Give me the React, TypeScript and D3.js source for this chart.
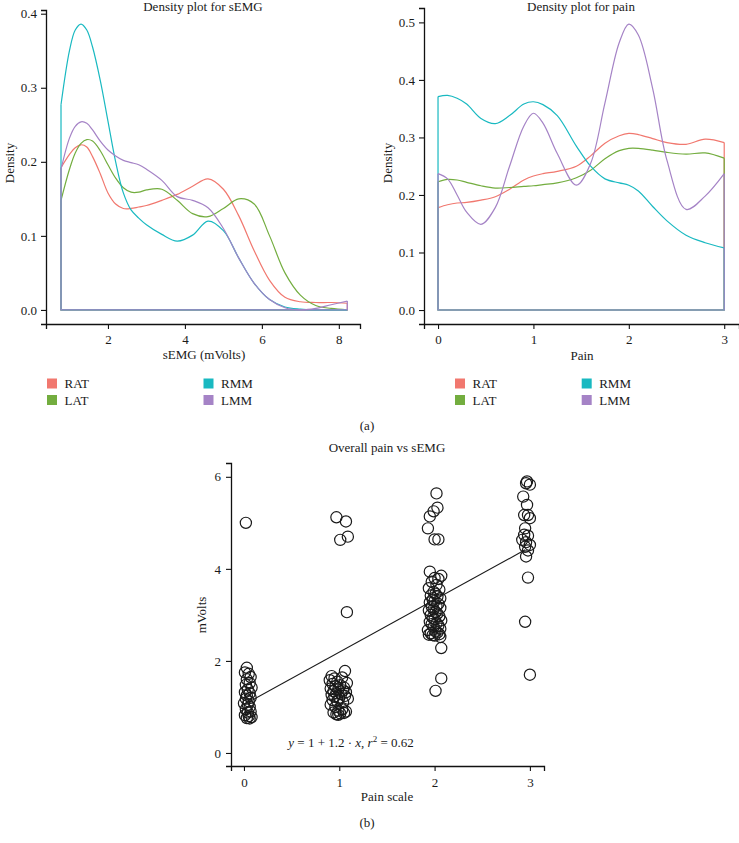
import { useEffect, useRef } from "react";
import * as d3 from "d3";

// muscle groups, in legend order
const groups = ["RAT", "LAT", "RMM", "LMM"];
const colors = ["#F1786F", "#73AD3F", "#19B9C1", "#A583C6"];

// density of sEMG (mVolts)
const semgGrid = [0.78, 1.0, 1.15, 1.3, 1.45, 1.6, 1.8, 2.0, 2.2, 2.4, 2.6, 2.8, 3.0, 3.4, 3.8, 4.2, 4.6, 5.0, 5.4, 5.8, 6.2, 6.6, 7.0, 7.4, 7.8, 8.22];
const semgRAT = [0.192, 0.21, 0.219, 0.223, 0.22, 0.207, 0.184, 0.158, 0.143, 0.137, 0.137, 0.139, 0.141, 0.148, 0.156, 0.167, 0.177, 0.163, 0.127, 0.08, 0.04, 0.017, 0.011, 0.01, 0.01, 0.009];
const semgLAT = [0.148, 0.19, 0.212, 0.225, 0.23, 0.228, 0.215, 0.196, 0.178, 0.165, 0.159, 0.159, 0.162, 0.163, 0.148, 0.13, 0.126, 0.137, 0.15, 0.143, 0.1, 0.05, 0.02, 0.006, 0.002, 0.0];
const semgRMM = [0.277, 0.35, 0.378, 0.386, 0.378, 0.355, 0.31, 0.255, 0.2, 0.158, 0.135, 0.124, 0.115, 0.102, 0.093, 0.101, 0.12, 0.107, 0.07, 0.036, 0.014, 0.004, 0.001, 0.0, 0.0, 0.0];
const semgLMM = [0.19, 0.232, 0.248, 0.254, 0.252, 0.243, 0.228, 0.216, 0.208, 0.202, 0.199, 0.196, 0.19, 0.175, 0.153, 0.148, 0.138, 0.11, 0.07, 0.036, 0.014, 0.003, 0.0, 0.002, 0.007, 0.012];

// density of pain scores
const painGrid = [0, 0.1, 0.2, 0.3, 0.45, 0.6, 0.75, 0.9, 1.0, 1.1, 1.25, 1.45, 1.6, 1.75, 1.9, 2.0, 2.1, 2.25, 2.4, 2.6, 2.8, 3.0];
const painRAT = [0.178, 0.183, 0.186, 0.187, 0.191, 0.197, 0.21, 0.226, 0.233, 0.237, 0.241, 0.25, 0.268, 0.29, 0.303, 0.307, 0.305, 0.298, 0.291, 0.288, 0.297, 0.291];
const painLAT = [0.223, 0.227, 0.226, 0.222, 0.216, 0.212, 0.213, 0.215, 0.216, 0.218, 0.221, 0.23, 0.243, 0.263, 0.277, 0.281, 0.281, 0.278, 0.274, 0.271, 0.273, 0.264];
const painRMM = [0.371, 0.373, 0.368, 0.358, 0.333, 0.324, 0.338, 0.358, 0.362, 0.357, 0.338, 0.285, 0.25, 0.228, 0.221, 0.217, 0.207, 0.18, 0.155, 0.13, 0.117, 0.108];
const painLMM = [0.237, 0.228, 0.2, 0.17, 0.149, 0.178, 0.25, 0.32, 0.342, 0.325, 0.272, 0.217, 0.255, 0.36, 0.465, 0.497, 0.478, 0.385, 0.26, 0.175, 0.198, 0.237];

// overall pain (jittered) vs sEMG mVolts
const painZero: [number, number][] = [
  [0.02, 5.0], [0.03, 1.85], [0.01, 1.75], [0.05, 1.72], [0.07, 1.65], [0.03, 1.6], [0.06, 1.52], [0.02, 1.48],
  [0.08, 1.42], [0.04, 1.38], [0.01, 1.32], [0.06, 1.3], [0.03, 1.25], [0.07, 1.2], [0.02, 1.18], [0.05, 1.12],
  [0.0, 1.08], [0.04, 1.05], [0.06, 1.0], [0.02, 0.95], [0.07, 0.9], [0.04, 0.88], [0.01, 0.82], [0.05, 0.8],
  [0.08, 0.78], [0.03, 0.76], [0.06, 0.75],
];
const painOne: [number, number][] = [
  [0.97, 5.12], [1.07, 5.03], [1.09, 4.7], [1.01, 4.63], [1.08, 3.06],
  [1.06, 1.78], [0.92, 1.67], [0.95, 1.62], [1.03, 1.64], [0.9, 1.58], [0.98, 1.55], [1.08, 1.52], [0.93, 1.5],
  [1.01, 1.47], [0.96, 1.45], [1.05, 1.42], [0.91, 1.4], [0.99, 1.38], [1.04, 1.36], [0.94, 1.34], [1.07, 1.32],
  [0.97, 1.3], [1.02, 1.28], [0.92, 1.26], [1.06, 1.24], [0.95, 1.22], [1.0, 1.2], [1.09, 1.18], [0.93, 1.15],
  [0.98, 1.12], [1.04, 1.1], [0.91, 1.05], [0.96, 1.0], [1.03, 0.95], [0.99, 0.92], [1.07, 0.9], [0.94, 0.88],
  [1.01, 0.86], [0.97, 0.84], [1.05, 0.87], [0.99, 0.83],
];
const painTwo: [number, number][] = [
  [2.02, 5.64], [2.03, 5.33], [1.99, 5.25], [1.95, 5.14], [1.93, 4.88], [2.0, 4.64], [2.04, 4.64],
  [1.95, 3.94], [2.07, 3.85], [2.0, 3.8], [2.04, 3.78], [1.97, 3.72], [2.02, 3.65], [1.94, 3.58], [2.05, 3.55],
  [1.99, 3.5], [2.01, 3.46], [1.96, 3.42], [2.03, 3.4], [2.06, 3.36], [1.98, 3.33], [2.0, 3.3], [1.95, 3.27],
  [2.04, 3.24], [2.02, 3.2], [1.97, 3.18], [2.06, 3.15], [1.99, 3.12], [1.94, 3.1], [2.01, 3.06], [2.03, 3.03],
  [1.96, 3.0], [2.05, 2.97], [1.98, 2.94], [2.0, 2.91], [2.07, 2.88], [1.95, 2.85], [2.02, 2.82], [1.97, 2.8],
  [2.04, 2.77], [1.99, 2.74], [2.06, 2.7], [1.93, 2.67], [2.01, 2.64], [2.03, 2.62], [1.96, 2.6], [2.05, 2.58],
  [1.98, 2.56], [2.0, 2.55], [1.94, 2.57], [2.06, 2.52],
  [2.07, 2.28], [2.07, 1.62], [2.01, 1.35],
];
const painThree: [number, number][] = [
  [2.97, 5.9], [3.0, 5.83], [2.96, 5.86], [2.93, 5.57], [2.97, 5.39], [2.94, 5.17], [2.98, 5.17], [3.0, 5.1],
  [2.95, 4.88], [2.94, 4.74], [2.98, 4.72], [2.92, 4.63], [2.96, 4.58], [3.0, 4.52], [2.95, 4.48], [2.98, 4.4],
  [2.96, 4.27], [2.98, 3.81], [2.95, 2.85], [3.0, 1.7],
];
// fitted line y = a + b x, drawn over the jittered range
const fitCoef = [1.05, 1.14];
const fitRange = [0.07, 2.95];

const semgTicksX = [2, 4, 6, 8];
const densTicksLeft = [0, 0.1, 0.2, 0.3, 0.4];
const painTicksX = [0, 1, 2, 3];
const densTicksRight = [0, 0.1, 0.2, 0.3, 0.4, 0.5];
const voltTicks = [0, 2, 4, 6];

const FONT = "'Liberation Serif', 'DejaVu Serif', serif";
const FS = 13;

type G = d3.Selection<SVGGElement, unknown, null, undefined>;

function drawAxes(g: G, x: d3.ScaleLinear<number, number>, y: d3.ScaleLinear<number, number>,
  xt: number[], yt: number[], fmt: (n: number) => string, padX: number, padY: number) {
  const bx = g.append("g").attr("transform", `translate(0,${y.range()[0]})`)
    .call(d3.axisBottom(x).tickValues(xt).tickSizeOuter(0).tickSize(5).tickPadding(padX).tickFormat((d) => String(d)));
  const by = g.append("g").attr("transform", `translate(${x.range()[0]},0)`)
    .call(d3.axisLeft(y).tickValues(yt).tickSizeOuter(0).tickSize(5).tickPadding(padY).tickFormat((d) => fmt(+d)));
  [bx, by].forEach((a) => {
    a.select(".domain").attr("stroke", "#111").attr("stroke-width", 1.3);
    a.selectAll(".tick line").attr("stroke", "#111").attr("stroke-width", 1.1);
    a.selectAll(".tick text").attr("fill", "#1a1a1a").style("font-family", FONT).style("font-size", `${FS}px`);
  });
}

function drawDensity(g: G, x: d3.ScaleLinear<number, number>, y: d3.ScaleLinear<number, number>,
  grid: number[], series: number[][]) {
  const curve = d3.line<[number, number]>().x((d) => x(d[0])).y((d) => y(d[1])).curve(d3.curveCatmullRom.alpha(0.5));
  const straight = d3.line<[number, number]>().x((d) => x(d[0])).y((d) => y(d[1]));
  const x0 = grid[0];
  const x1 = grid[grid.length - 1];
  series.forEach((vals, i) => {
    const pts = grid.map((gx, j) => [gx, vals[j]] as [number, number]);
    g.append("path").attr("d", straight([[x1, vals[vals.length - 1]], [x1, 0], [x0, 0], [x0, vals[0]]]))
      .attr("fill", "none").attr("stroke", colors[i]).attr("stroke-width", 1.2);
    g.append("path").attr("d", curve(pts)).attr("fill", "none").attr("stroke", colors[i]).attr("stroke-width", 1.2);
  });
}

function label(svg: any, text: string, x: number, y: number, rotate = false, size = FS) {
  const t = svg.append("text").attr("text-anchor", "middle").attr("fill", "#1a1a1a")
    .style("font-family", FONT).style("font-size", `${size}px`).text(text);
  if (rotate) t.attr("transform", `translate(${x},${y}) rotate(-90)`);
  else t.attr("x", x).attr("y", y);
  return t;
}

function legend(svg: any, left: number, colX: number, top: number) {
  groups.forEach((name, i) => {
    const col = i < 2 ? 0 : 1;
    const row = i % 2;
    const lx = left + col * colX;
    const ly = top + row * 16.5;
    svg.append("rect").attr("x", lx).attr("y", ly).attr("width", 10).attr("height", 10).attr("fill", colors[i]);
    svg.append("text").attr("x", lx + 17.5).attr("y", ly + 9.8).attr("fill", "#1a1a1a")
      .style("font-family", FONT).style("font-size", `${FS}px`).text(name);
  });
}

export default function App() {
  const ref = useRef<SVGSVGElement>(null);

  useEffect(() => {
    const svg = d3.select(ref.current);
    svg.selectAll("*").remove();

    // (a) left: sEMG density
    const xL = d3.scaleLinear().domain([0.39, 8.55]).range([46, 360]);
    const yL = d3.scaleLinear().domain([-0.019, 0.405]).range([324, 10]);
    const gL = svg.append("g") as unknown as G;
    drawDensity(gL, xL, yL, semgGrid, [semgRAT, semgLAT, semgRMM, semgLMM]);
    drawAxes(gL, xL, yL, semgTicksX, densTicksLeft, d3.format(".1f"), 6, 4);
    label(svg, "Density plot for sEMG", 203, 10.5);
    label(svg, "sEMG (mVolts)", 204, 359);
    label(svg, "Density", 14, 163, true);
    legend(svg, 47, 156.5, 378.5);

    // (a) right: pain density
    const xR = d3.scaleLinear().domain([-0.147, 3.155]).range([424, 739]);
    const yR = d3.scaleLinear().domain([-0.0243, 0.525]).range([324, 8]);
    const gR = svg.append("g") as unknown as G;
    drawDensity(gR, xR, yR, painGrid, [painRAT, painLAT, painRMM, painLMM]);
    drawAxes(gR, xR, yR, painTicksX, densTicksRight, d3.format(".1f"), 6, 4);
    label(svg, "Density plot for pain", 581, 10.5);
    label(svg, "Pain", 582, 360);
    label(svg, "Density", 392, 163, true);
    legend(svg, 455, 126.7, 378.5);

    label(svg, "(a)", 367, 430);

    // (b) scatter
    const xB = d3.scaleLinear().domain([-0.136, 3.148]).range([231, 544]);
    const yB = d3.scaleLinear().domain([-0.283, 6.3]).range([766, 463]);
    const gB = svg.append("g") as unknown as G;
    const pts = [...painZero, ...painOne, ...painTwo, ...painThree];
    gB.selectAll("circle").data(pts).join("circle")
      .attr("cx", (d) => xB(d[0])).attr("cy", (d) => yB(d[1])).attr("r", 5.6)
      .attr("fill", "none").attr("stroke", "#1a1a1a").attr("stroke-width", 1.2);
    const fitLine = d3.line<number>().x((v) => xB(v)).y((v) => yB(fitCoef[0] + fitCoef[1] * v));
    gB.append("path").attr("d", fitLine(fitRange)).attr("stroke", "#1a1a1a").attr("stroke-width", 1.1).attr("fill", "none");
    drawAxes(gB, xB, yB, painTicksX, voltTicks, (n) => String(n), 7, 5);
    label(svg, "Overall pain vs sEMG", 387, 451.5);
    label(svg, "Pain scale", 387, 801);
    label(svg, "mVolts", 206, 615, true);

    const eq = svg.append("text").attr("x", 351).attr("y", 747).attr("text-anchor", "middle").attr("fill", "#1a1a1a")
      .style("font-family", FONT).style("font-size", `${FS}px`);
    eq.append("tspan").style("font-style", "italic").text("y");
    eq.append("tspan").text(" = 1 + 1.2 · ");
    eq.append("tspan").style("font-style", "italic").text("x");
    eq.append("tspan").text(", ");
    eq.append("tspan").style("font-style", "italic").text("r");
    eq.append("tspan").attr("dy", -5).style("font-size", "9px").text("2");
    eq.append("tspan").attr("dy", 5).text(" = 0.62");

    label(svg, "(b)", 367, 827);
  }, []);

  return (
    <svg ref={ref} width={739} height={843}
      style={{ position: "absolute", left: 0, top: 0, background: "white", display: "block" }} />
  );
}
